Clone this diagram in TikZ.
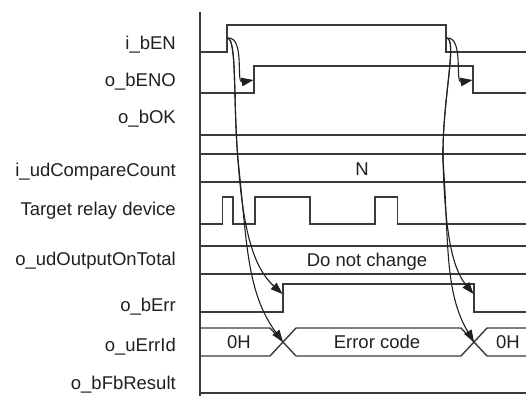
\documentclass[tikz,border=0pt]{standalone}
\usepackage{fontspec}
\setmainfont{Liberation Sans}
\usetikzlibrary{arrows.meta}
\definecolor{ln}{RGB}{58,58,58}
\definecolor{tx}{RGB}{35,31,32}
\begin{document}
\begin{tikzpicture}[x=1pt,y=-1pt,
  sig/.style={draw=ln,line width=1.4pt,line join=miter},
  axisline/.style={draw=ln,line width=2pt},
  lbl/.style={anchor=base east,inner sep=0pt,text=tx,font=\fontsize{18.5}{20}\selectfont},
  val/.style={anchor=base,inner sep=0pt,text=tx,font=\fontsize{18.5}{20}\selectfont},
  cause/.style={draw=tx,line width=1.1pt,-{Triangle[length=12pt,width=8.5pt]}}]
\useasboundingbox (0,0) rectangle (526,396);
% axis
\draw[axisline] (200,12) -- (200,396);
% labels
\node[lbl] (lEN) at (176,49.5) {i\_bEN};
\node[lbl] (lENO) at (176,86.5) {o\_bENO};
\node[lbl] (lOK) at (176,123.5) {o\_bOK};
\node[lbl] (lCC) at (176,176.5) {i\_udCompareCount};
\node[lbl] (lTR) at (176,215.5) {Target relay device};
\node[lbl] (lOT) at (176,265.5) {o\_udOutputOnTotal};
\node[lbl] (lErr) at (176,311.5) {o\_bErr};
\node[lbl] (lEid) at (176,351.5) {o\_uErrId};
\node[lbl] (lFb) at (176,389.5) {o\_bFbResult};
% i_bEN
\draw[sig] (200,52) -- (227,52) -- (227,25) -- (446,25) -- (446,52) -- (526,52);
% o_bENO
\draw[sig] (200,93) -- (254,93) -- (254,66) -- (473,66) -- (473,93) -- (526,93);
% o_bOK
\draw[sig] (200,135) -- (526,135);
% i_udCompareCount
\draw[sig] (200,154) -- (526,154);
\draw[sig] (200,182) -- (526,182);
\node[val] (vN) at (362,175) {N};
% Target relay device
\draw[sig] (200,224) -- (222.5,224) -- (222.5,197) -- (233,197) -- (233,224) -- (255,224) -- (255,197) -- (310,197) -- (310,224) -- (375,224) -- (375,197) -- (397.5,197) -- (397.5,224) -- (526,224);
% o_udOutputOnTotal
\draw[sig] (200,246) -- (526,246);
\draw[sig] (200,274) -- (526,274);
\node[val] (vDNC) at (367,266.5) {Do not change};
% o_bErr
\draw[sig] (200,312) -- (283,312) -- (283,284) -- (474,284) -- (474,312) -- (526,312);
% o_uErrId bus
\draw[sig] (200,328) -- (270,328) -- (296,356) -- (461,356) -- (487,328) -- (526,328);
\draw[sig] (200,356) -- (270,356) -- (296,328) -- (461,328) -- (487,356) -- (526,356);
\node[val] (v0a) at (239,348.5) {0H};
\node[val] (vErr) at (377,348.5) {Error code};
\node[val] (v0b) at (508,348.5) {0H};
% o_bFbResult
\draw[sig] (200,393) -- (526,393);
% cause coordinates
\coordinate (enR) at (227.5,38);
\coordinate (enF) at (446.5,38);
\coordinate (enoR) at (253.5,80);
\coordinate (enoF) at (472.5,80);
\coordinate (errR) at (282.5,294);
\coordinate (errF) at (473.5,294);
\coordinate (xR) at (283,342);
\coordinate (xF) at (474,342);
\coordinate (mL) at (238,160);
\coordinate (mR) at (443,160);
% cause arrows
\draw[cause] (enR) .. controls (245,36) and (236,83) .. (enoR);
\draw[cause] (enF) .. controls (464,36) and (455,83) .. (enoF);
\draw[cause] (enR) .. controls (237,39) and (233,100) .. (mL) .. controls (243,232) and (254,268) .. (errR);
\draw[cause] (enR) .. controls (237,39) and (233,100) .. (mL) .. controls (247,240) and (246,292) .. (xR);
\draw[cause] (enF) .. controls (458,39) and (442,100) .. (mR) .. controls (445,232) and (452,268) .. (errF);
\draw[cause] (enF) .. controls (458,39) and (442,100) .. (mR) .. controls (449,240) and (444,292) .. (xF);
\end{tikzpicture}
\end{document}
